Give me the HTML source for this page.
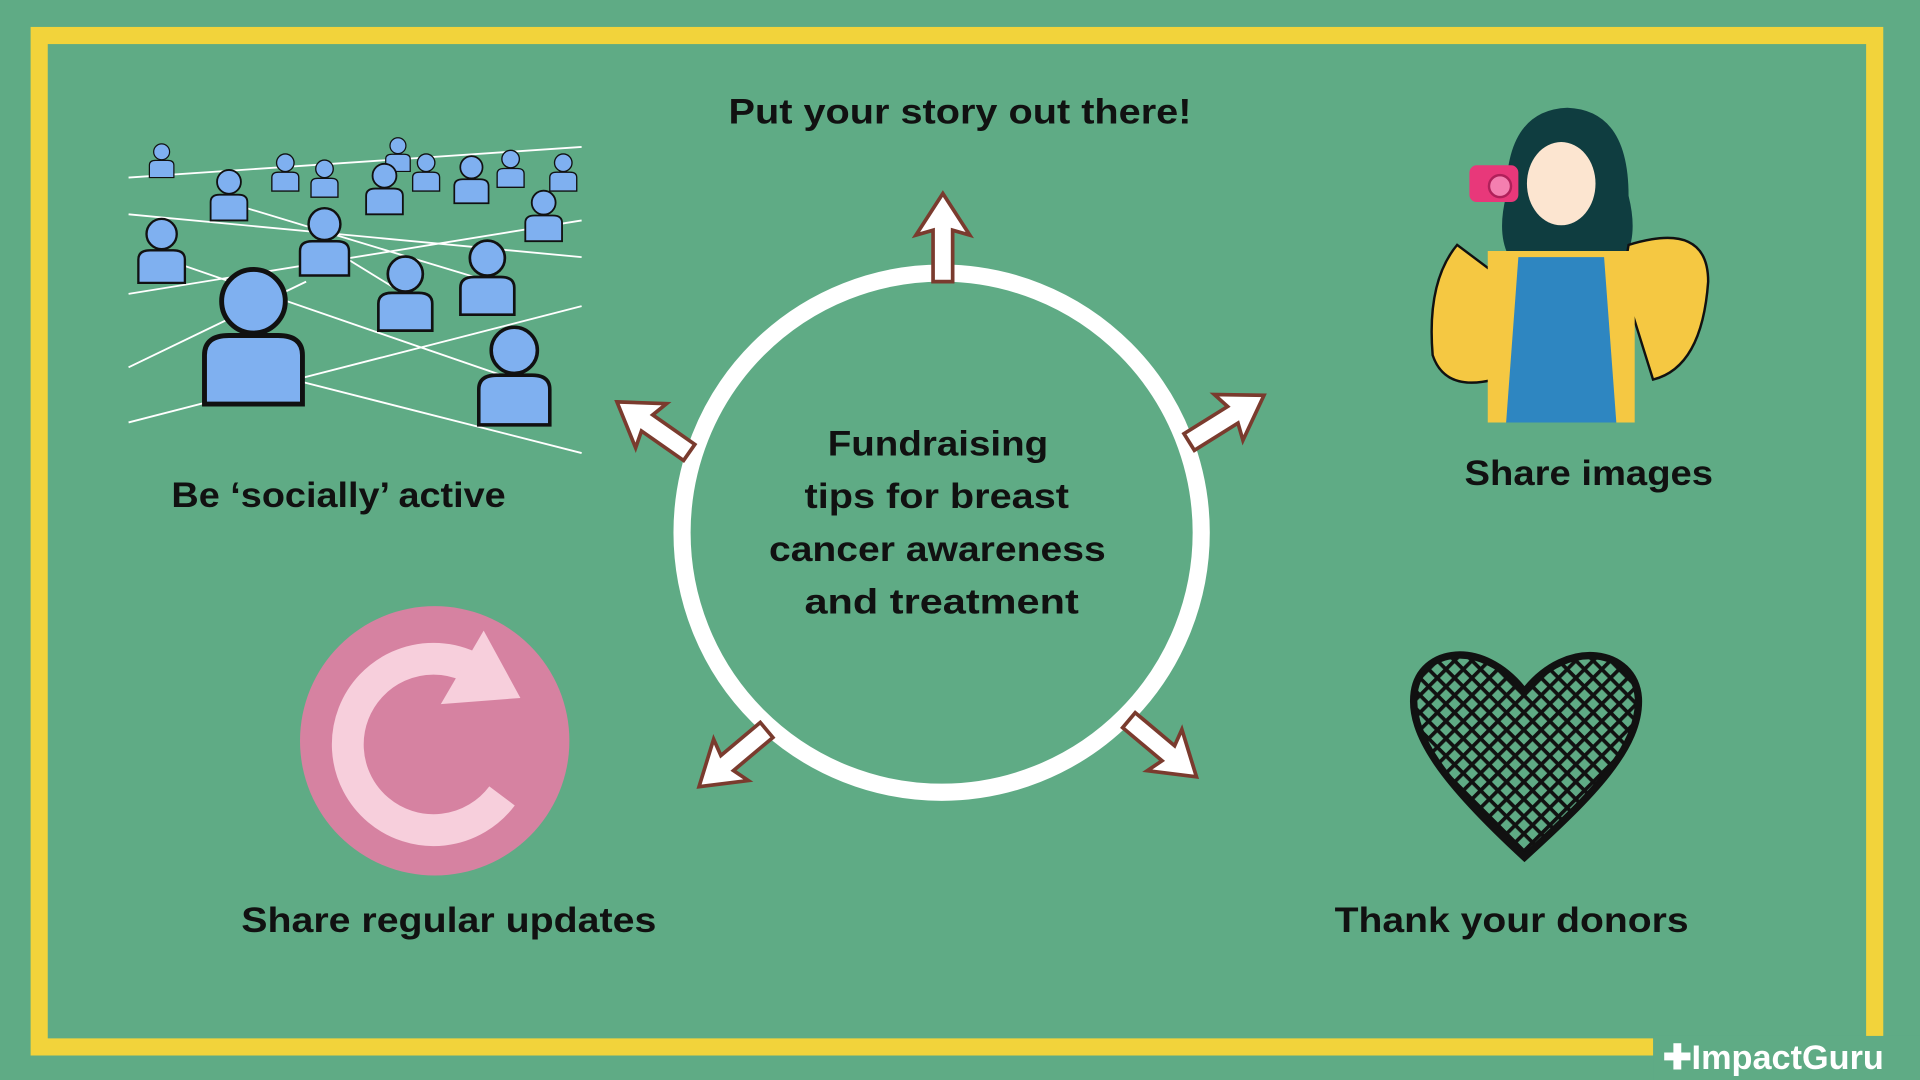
<!DOCTYPE html>
<html><head><meta charset="utf-8"><style>
html,body{margin:0;padding:0;background:#5fab85;}
svg{display:block}
text{font-family:"Liberation Sans",sans-serif;font-weight:bold;fill:#111;}
</style></head><body>
<svg width="1920" height="1080" viewBox="0 0 1568 882" xmlns="http://www.w3.org/2000/svg">
<defs>
<g id="arrow"><polygon points="0,-38 22,-4 8,-8 8,34 -8,34 -8,-8 -22,-4" fill="#fff" stroke="#7a3b2e" stroke-width="3" stroke-linejoin="miter"/></g>
<g id="person"><circle cx="0" cy="-22" r="13" fill="#7fb0f0" stroke="#111" stroke-width="2"/><path d="M-20,20 L-20,0 Q-20,-8 -10,-8 L10,-8 Q20,-8 20,0 L20,20 Z" fill="#7fb0f0" stroke="#111" stroke-width="2"/></g>
<pattern id="hatch" width="10" height="10" patternUnits="userSpaceOnUse" patternTransform="rotate(45)"><rect width="10" height="10" fill="#5fab85"/><rect width="3" height="10" fill="#111"/><rect width="10" height="3" fill="#111"/></pattern>
</defs>
<rect width="1568" height="882" fill="#5fab85"/>
<rect x="32" y="29" width="1499" height="826" fill="none" stroke="#f2d33b" stroke-width="14"/>
<rect x="1350" y="846" width="218" height="36" fill="#5fab85"/>
<text x="1358" y="873" font-size="28" style="fill:#fff">✚ImpactGuru</text>

<circle cx="769" cy="435" r="212" fill="none" stroke="#fff" stroke-width="14"/>
<text font-size="29" lengthAdjust="spacingAndGlyphs">
<tspan x="676" y="372" textLength="180" lengthAdjust="spacingAndGlyphs">Fundraising</tspan></text>
<text x="657" y="415" font-size="29" textLength="216" lengthAdjust="spacingAndGlyphs">tips for breast</text>
<text x="628" y="458" font-size="29" textLength="275" lengthAdjust="spacingAndGlyphs">cancer awareness</text>
<text x="657" y="501" font-size="29" textLength="224" lengthAdjust="spacingAndGlyphs">and treatment</text>

<use href="#arrow" transform="translate(770,196)"/>
<use href="#arrow" transform="translate(1000,343) rotate(58)"/>
<use href="#arrow" transform="translate(948,610) rotate(130)"/>
<use href="#arrow" transform="translate(600,618) rotate(-130)"/>
<use href="#arrow" transform="translate(535,350) rotate(-55)"/>

<text x="595" y="101" font-size="29" textLength="378" lengthAdjust="spacingAndGlyphs">Put your story out there!</text>
<text x="140" y="414" font-size="29" textLength="273" lengthAdjust="spacingAndGlyphs">Be ‘socially’ active</text>
<text x="1196" y="396" font-size="29" textLength="203" lengthAdjust="spacingAndGlyphs">Share images</text>
<text x="197" y="761" font-size="29" textLength="339" lengthAdjust="spacingAndGlyphs">Share regular updates</text>
<text x="1090" y="761" font-size="29" textLength="289" lengthAdjust="spacingAndGlyphs">Thank your donors</text>

<!-- network -->
<g stroke="#fff" stroke-width="1.5">
<line x1="105" y1="145" x2="475" y2="120"/><line x1="105" y1="175" x2="475" y2="210"/><line x1="105" y1="240" x2="475" y2="180"/>
<line x1="105" y1="345" x2="475" y2="250"/><line x1="200" y1="300" x2="475" y2="370"/><line x1="130" y1="210" x2="420" y2="310"/>
<line x1="185" y1="165" x2="400" y2="230"/><line x1="265" y1="200" x2="330" y2="240"/><line x1="105" y1="300" x2="250" y2="230"/></g>
<use href="#person" transform="translate(132,135) scale(0.5)"/><use href="#person" transform="translate(233,145) scale(0.55)"/>
<use href="#person" transform="translate(265,150) scale(0.55)"/><use href="#person" transform="translate(325,130) scale(0.5)"/>
<use href="#person" transform="translate(348,145) scale(0.55)"/><use href="#person" transform="translate(385,152) scale(0.7)"/>
<use href="#person" transform="translate(417,142) scale(0.55)"/><use href="#person" transform="translate(460,145) scale(0.55)"/>
<use href="#person" transform="translate(187,165) scale(0.75)"/><use href="#person" transform="translate(314,160) scale(0.75)"/>
<use href="#person" transform="translate(444,182) scale(0.75)"/><use href="#person" transform="translate(132,212) scale(0.95)"/>
<use href="#person" transform="translate(265,205) scale(1)"/><use href="#person" transform="translate(331,248) scale(1.1)"/>
<use href="#person" transform="translate(398,235) scale(1.1)"/><use href="#person" transform="translate(207,290) scale(2)"/>
<use href="#person" transform="translate(420,318) scale(1.45)"/>

<!-- pink circle -->
<circle cx="355" cy="605" r="110" fill="#d682a1"/>
<path d="M405,560 A70,70 0 1 0 410,650" fill="none" stroke="#f7cfdc" stroke-width="26"/>
<polygon points="360,575 395,515 425,570" fill="#f7cfdc"/>

<!-- heart -->
<path d="M1245,700 C1180,640 1150,600 1155,565 C1160,530 1210,520 1245,565 C1280,520 1335,530 1338,570 C1340,610 1300,650 1245,700 Z" fill="url(#hatch)" stroke="#111" stroke-width="6"/>

<!-- girl -->
<path d="M1230,160 Q1230,90 1280,88 Q1330,90 1330,160 Q1340,200 1320,220 L1240,220 Q1220,200 1230,160 Z" fill="#0f3d40"/>
<ellipse cx="1275" cy="150" rx="28" ry="34" fill="#fce5d0"/>
<path d="M1190,200 Q1165,230 1170,290 Q1180,320 1220,310 L1230,230 Z" fill="#f5c842" stroke="#111" stroke-width="2"/>
<path d="M1330,200 Q1395,180 1395,230 Q1390,300 1350,310 L1325,230 Z" fill="#f5c842" stroke="#111" stroke-width="2"/>
<path d="M1215,205 L1335,205 L1335,345 L1215,345 Z" fill="#f5c842"/>
<path d="M1240,210 L1310,210 L1320,345 L1230,345 Z" fill="#2e86c1"/>
<rect x="1200" y="135" width="40" height="30" rx="6" fill="#e8387a"/>
<circle cx="1225" cy="152" r="9" fill="#f47fb0" stroke="#b0205a" stroke-width="2"/>
</svg>
</body></html>
